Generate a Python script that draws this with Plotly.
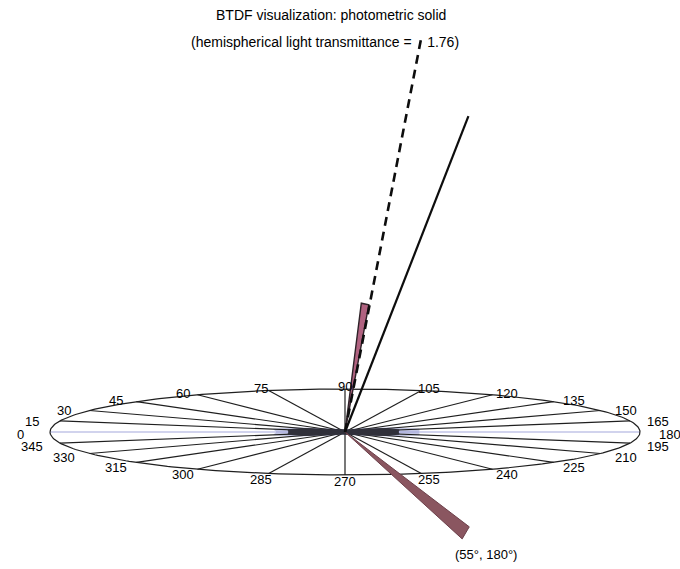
import numpy as np
import plotly.graph_objects as go

# ---- data -------------------------------------------------------------
# azimuth grid of the polar base (degrees) and its labels
azimuths = list(range(0, 360, 15))
azimuth_labels = [str(a) for a in azimuths]

# incident beam direction (polar angle, azimuth) and drawn length
incident_theta = 55
incident_phi = 180
incident_length = 0.5
incident_halfwidth = 2.4          # degrees

# photometric solid: main transmitted peaks (polar angle, azimuth, length)
dashed_peak = (13.0, 180, 1.15)
solid_peak = (25.0, 180, 0.99)
lobe_peak = (10.6, 180, 0.37)
lobe_halfwidth = 2.0              # degrees

# near-grazing part of the solid, radius per azimuth
grazing_core = [0.19, 0.2, 0.16, 0.1, 0.07, 0.05, 0.045, 0.05, 0.07, 0.1,
                0.16, 0.19, 0.18, 0.19, 0.16, 0.1, 0.07, 0.05, 0.045, 0.05,
                0.07, 0.1, 0.16, 0.2]
grazing_halo = [0.23, 0.25, 0.19, 0.12, 0.08, 0.06, 0.055, 0.06, 0.08, 0.12,
                0.19, 0.26, 0.25, 0.26, 0.19, 0.12, 0.08, 0.06, 0.055, 0.06,
                0.08, 0.12, 0.19, 0.25]

transmittance = 1.76

# ---- oblique view of the hemisphere (pixels per unit) ---------------
RX, RY, RZ = 295.0, 43.0, 352.0


def project(theta, phi, r, below=False):
    th = np.radians(theta)
    ph = np.radians(phi)
    rho = r * np.sin(th)
    z = r * np.cos(th) * (-1 if below else 1)
    x = -np.cos(ph) * rho * RX
    y = np.sin(ph) * rho * RY + z * RZ
    return x, y


def in_plane(phi, r):
    return project(90.0, phi, r)


fig = go.Figure()
font = "Arial, Liberation Sans, sans-serif"

# grazing halo
phis = np.array(azimuths + [azimuths[0]], dtype=float)
halo = np.array(grazing_halo + [grazing_halo[0]])
hx, hy = in_plane(phis, halo)
fig.add_trace(go.Scatter(x=hx, y=hy, mode="lines", fill="toself",
                         fillcolor="#c4c7e4", line=dict(color="#c4c7e4", width=1)))

# spokes
for a in azimuths:
    ex, ey = in_plane(a, 1.0)
    col = "#a3a8dc" if a in (0, 180) else "#1f1f1f"
    fig.add_trace(go.Scatter(x=[0, ex], y=[0, ey], mode="lines",
                             line=dict(color=col, width=1.2)))

# grazing core
core = np.array(grazing_core + [grazing_core[0]])
cx, cy = in_plane(phis, core)
fig.add_trace(go.Scatter(x=cx, y=cy, mode="lines", fill="toself",
                         fillcolor="#30303a", line=dict(color="#30303a", width=1)))

# base ellipse
t = np.linspace(0, 360, 361)
bx, by = in_plane(t, 1.0)
fig.add_trace(go.Scatter(x=bx, y=by, mode="lines", line=dict(color="#1f1f1f", width=1.2)))

# azimuth labels
for a, lab in zip(azimuths, azimuth_labels):
    lx, ly = in_plane(a, 1.1)
    fig.add_annotation(x=lx, y=ly, text=lab, showarrow=False, yshift=-2,
                       xanchor="center", yanchor="middle",
                       font=dict(family=font, size=13, color="#000000"))

# incident beam wedge
ax1, ay1 = project(incident_theta - incident_halfwidth, incident_phi, incident_length, below=True)
ax2, ay2 = project(incident_theta + incident_halfwidth, incident_phi, incident_length, below=True)
fig.add_trace(go.Scatter(x=[0, ax1, ax2, 0], y=[0, ay1, ay2, 0], mode="lines",
                         fill="toself", fillcolor="rgb(138,86,96)",
                         line=dict(color="rgb(108,64,74)", width=1)))
tx, ty = project(incident_theta, incident_phi, incident_length, below=True)
fig.add_annotation(x=tx, y=ty, text=f"({incident_theta}°, {incident_phi}°)",
                   showarrow=False, xshift=20, yshift=-22,
                   xanchor="center", yanchor="middle",
                   font=dict(family=font, size=13, color="#000000"))

# narrow transmitted lobe
lt, lp, lr = lobe_peak
px1, py1 = project(lt - lobe_halfwidth, lp, lr)
px2, py2 = project(lt + lobe_halfwidth, lp, lr)
fig.add_trace(go.Scatter(x=[0, px1, px2, 0], y=[0, py1, py2, 0], mode="lines",
                         fill="toself", fillcolor="rgb(176,98,128)",
                         line=dict(color="#2e2228", width=1.4)))

# solid peak
st, sp, sr = solid_peak
sx, sy = project(st, sp, sr)
fig.add_trace(go.Scatter(x=[0, sx], y=[0, sy], mode="lines",
                         line=dict(color="#0d0d0d", width=2.2)))

# dashed peak
dt, dp, dr = dashed_peak
dx, dy = project(dt, dp, dr)
fig.add_trace(go.Scatter(x=[0, dx], y=[0, dy], mode="lines",
                         line=dict(color="#0d0d0d", width=2.6, dash="9px,6px")))

# title
fig.add_annotation(x=331 / 680, y=1 - 15 / 569, xref="paper", yref="paper",
                   xanchor="center", yanchor="middle",
                   text="BTDF visualization: photometric solid", showarrow=False,
                   font=dict(family=font, size=14, color="#000000"))
fig.add_annotation(x=325 / 680, y=1 - 42 / 569, xref="paper", yref="paper",
                   xanchor="center", yanchor="middle",
                   text=f"(hemispherical light transmittance =\u00a0\u00a0\u00a0 {transmittance:.2f})",
                   showarrow=False,
                   font=dict(family=font, size=14, color="#000000"))

fig.update_layout(
    width=680, height=569,
    margin=dict(l=0, r=0, t=0, b=0),
    paper_bgcolor="white", plot_bgcolor="white",
    showlegend=False,
    xaxis=dict(range=[-345, 335], visible=False, fixedrange=True),
    yaxis=dict(range=[-137, 432], visible=False, fixedrange=True),
)

fig.write_html("out.html")
